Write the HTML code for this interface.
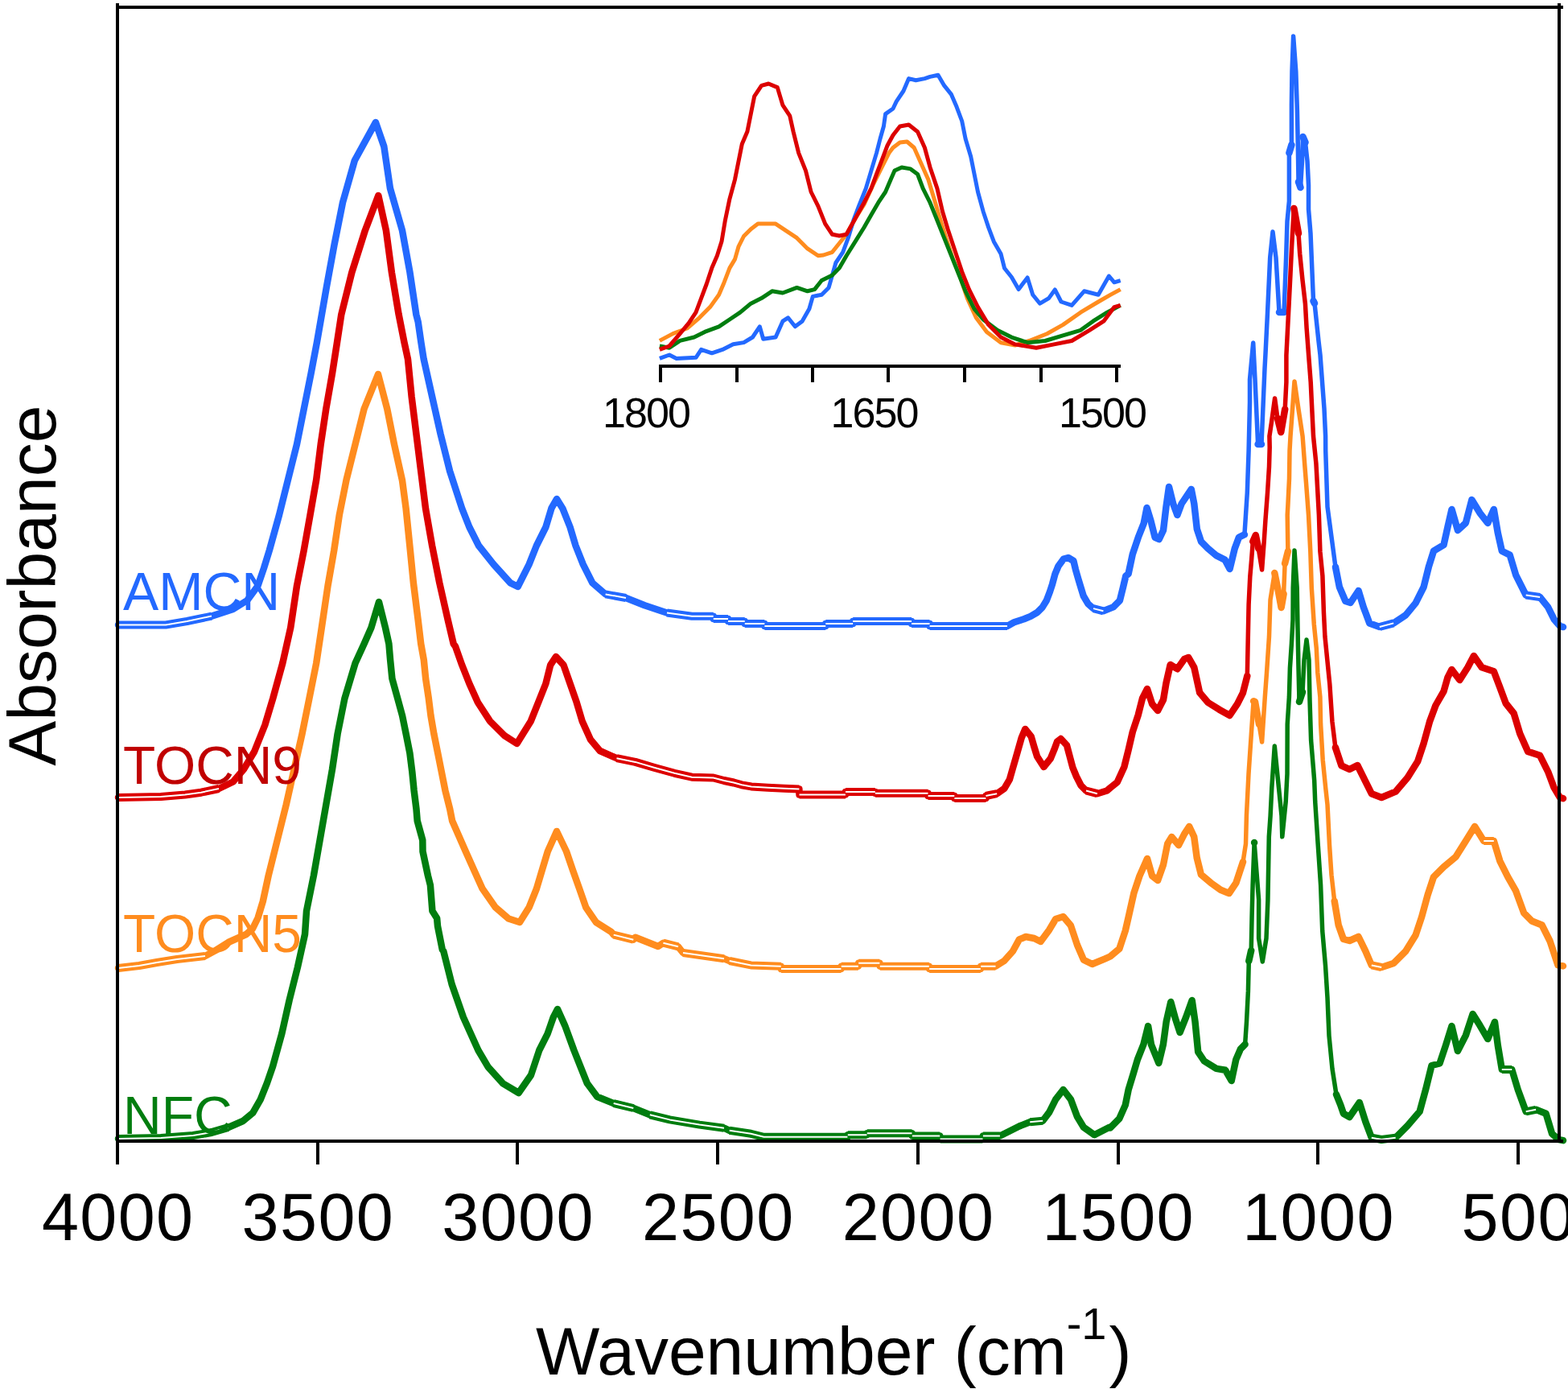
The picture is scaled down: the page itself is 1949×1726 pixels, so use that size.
<!DOCTYPE html>
<html><head><meta charset="utf-8"><style>
html,body{margin:0;padding:0;background:#fff;}
svg{display:block;}
text{font-family:"Liberation Sans",Arial,sans-serif;}
</style></head><body>
<svg width="1949" height="1726" viewBox="0 0 1949 1726" shape-rendering="auto">
<rect width="1949" height="1726" fill="#fff"/>
<g stroke="#2369FF" fill="none" stroke-linejoin="round" stroke-linecap="round"><path d="M147.0 776.5 L206.0 776.5 L232.5 772.0 L263.0 765.6 L289.7 757.0 L307.3 746.0 L320.5 728.0 L328.0 706.0 L334.8 684.0 L347.0 640.0 L358.0 596.0 L369.0 552.0 L377.8 508.0 L386.6 464.0 L393.9 425.5 L406.0 356.0 L415.6 303.8 L426.0 251.7 L440.8 199.5 L466.9 152.0 L477.3 182.0 L485.0 234.3 L500.0 286.4 L509.5 338.6 L517.3 390.7 L519.7 400.0 L523.4 425.5 L526.7 446.3 L537.1 492.7 L547.5 539.0 L559.1 585.4 L574.2 631.7 L583.4 655.0 L595.0 678.0 L613.6 701.3 L634.4 724.4 L643.7 729.0 L657.6 701.3 L666.9 678.0 L678.4 655.0 L685.4 631.7 L692.0 620.0 L699.3 631.7 L708.6 655.0 L715.5 678.0 L724.8 701.3 L736.4 724.4 L752.6 738.4 L778.0 743.0 L801.3 752.3 L829.0 761.5 L860.0 765.8 L886.7 765.8 L886.8 769.1 L905.0 769.1 L905.1 772.0 L925.7 772.0 L925.8 775.1 L950.3 775.1 L950.4 778.0 L1026.2 778.0 L1026.3 775.1 L1060.1 775.1 L1060.2 772.0 L1133.0 772.0 L1133.1 775.1 L1155.5 775.1 L1155.6 778.0 L1252.0 778.0 L1260.5 773.3 L1272.8 769.2 L1281.0 765.9 L1289.3 761.0 L1295.8 754.4 L1300.8 746.2 L1304.9 735.5 L1308.1 725.7 L1311.4 713.4 L1315.5 703.5 L1322.1 694.5 L1327.8 693.0 L1334.4 697.0 L1336.9 707.6 L1340.2 719.1 L1343.4 729.8 L1346.7 740.5 L1352.5 750.3 L1359.0 756.1 L1371.4 759.3 L1383.7 754.4 L1391.9 746.2 L1396.0 729.8 L1399.3 715.8 L1402.6 713.0 L1407.8 688.6 L1414.8 667.8 L1421.7 650.4 L1425.5 631.0 L1430.4 647.0 L1435.6 667.8 L1440.8 670.0 L1446.0 659.0 L1449.5 629.5 L1453.0 605.0 L1458.2 626.0 L1463.4 640.0 L1468.6 626.0 L1475.6 615.6 L1480.8 608.0 L1484.3 626.0 L1487.8 657.3 L1493.0 673.0 L1501.7 681.7 L1512.1 690.4 L1522.5 695.6 L1528.6 707.0 L1534.7 681.7 L1539.9 667.8 L1546.9 664.3 L1548.6 638.2 L1550.3 612.1 L1552.1 560.0 L1553.5 500.0 L1553.5 471.5 L1557.7 426.0 L1560.0 471.5 L1563.6 552.0 L1568.0 552.0 L1572.0 458.0 L1572.9 441.3 L1575.4 390.8 L1578.7 320.0 L1582.0 288.0 L1586.0 320.0 L1590.0 388.0 L1596.0 388.0 L1598.6 320.0 L1600.0 275.0 L1602.4 250.0 L1602.4 190.0 L1605.4 180.0 L1605.4 130.0 L1606.0 88.6 L1607.6 45.0 L1610.8 88.6 L1612.4 137.3 L1613.3 180.0 L1614.0 226.0 L1616.5 233.0 L1618.5 200.0 L1619.5 170.0 L1622.5 177.0 L1625.0 200.0 L1626.5 230.0 L1626.5 260.0 L1629.0 290.0 L1632.5 374.0 L1634.0 377.0 L1639.0 424.0 L1641.0 441.0 L1646.0 508.0 L1647.6 542.0 L1647.7 560.0 L1650.0 629.8 L1655.0 667.2 L1660.0 704.6 L1664.9 729.5 L1672.4 747.0 L1678.6 749.0 L1688.6 734.0 L1694.8 754.4 L1702.3 774.4 L1714.8 779.0 L1732.2 774.4 L1747.2 764.4 L1759.6 749.4 L1769.6 729.5 L1775.8 704.6 L1782.0 684.7 L1794.5 677.2 L1799.5 654.8 L1804.5 633.0 L1812.0 659.0 L1821.9 649.8 L1829.4 621.0 L1839.4 637.3 L1849.3 650.0 L1856.8 633.0 L1861.8 662.2 L1866.8 684.7 L1876.7 689.6 L1884.2 714.6 L1896.7 739.5 L1914.1 742.0 L1924.1 754.4 L1931.6 769.4 L1939.0 778.1 L1943.0 779.1" stroke-width="5.5"/><path d="M147.0 776.5 L206.0 776.5 L232.5 772.0 L263.0 765.6 L289.7 757.0 L307.3 746.0 L320.5 728.0 L328.0 706.0 L334.8 684.0 L347.0 640.0 L358.0 596.0 L369.0 552.0 L377.8 508.0 L386.6 464.0 L393.9 425.5 L406.0 356.0 L415.6 303.8 L426.0 251.7 L440.8 199.5 L466.9 152.0 L477.3 182.0 L485.0 234.3 L500.0 286.4 L509.5 338.6 L517.3 390.7 L519.7 400.0 L523.4 425.5 L526.7 446.3 L537.1 492.7 L547.5 539.0 L559.1 585.4 L574.2 631.7 L583.4 655.0 L595.0 678.0 L613.6 701.3 L634.4 724.4 L643.7 729.0 L657.6 701.3 L666.9 678.0 L678.4 655.0 L685.4 631.7 L692.0 620.0 L699.3 631.7 L708.6 655.0 L715.5 678.0 L724.8 701.3 L736.4 724.4 L752.6 738.4 L778.0 743.0 L801.3 752.3 L829.0 761.5 L860.0 765.8 L886.7 765.8 L886.8 769.1 L905.0 769.1 L905.1 772.0 L925.7 772.0 L925.8 775.1 L950.3 775.1 L950.4 778.0 L1026.2 778.0 L1026.3 775.1 L1060.1 775.1 L1060.2 772.0 L1133.0 772.0 L1133.1 775.1 L1155.5 775.1 L1155.6 778.0 L1252.0 778.0 L1260.5 773.3 L1272.8 769.2 L1281.0 765.9 L1289.3 761.0 L1295.8 754.4 L1300.8 746.2 L1304.9 735.5 L1308.1 725.7 L1311.4 713.4 L1315.5 703.5 L1322.1 694.5 L1327.8 693.0 L1334.4 697.0 L1336.9 707.6 L1340.2 719.1 L1343.4 729.8 L1346.7 740.5 L1352.5 750.3 L1359.0 756.1 L1371.4 759.3 L1383.7 754.4 L1391.9 746.2 L1396.0 729.8 L1399.3 715.8 L1402.6 713.0 L1407.8 688.6 L1414.8 667.8 L1421.7 650.4 L1425.5 631.0 L1430.4 647.0 L1435.6 667.8 L1440.8 670.0 L1446.0 659.0 L1449.5 629.5 L1453.0 605.0 L1458.2 626.0 L1463.4 640.0 L1468.6 626.0 L1475.6 615.6 L1480.8 608.0 L1484.3 626.0 L1487.8 657.3 L1493.0 673.0 L1501.7 681.7 L1512.1 690.4 L1522.5 695.6 L1528.6 707.0 L1534.7 681.7 L1539.9 667.8 L1546.9 664.3 M1563.6 552.0 L1568.0 552.0 M1590.0 388.0 L1596.0 388.0 M1602.4 190.0 L1605.4 180.0 M1614.0 226.0 L1616.5 233.0 M1619.5 170.0 L1622.5 177.0 M1632.5 374.0 L1634.0 377.0 M1660.0 704.6 L1664.9 729.5 L1672.4 747.0 L1678.6 749.0 L1688.6 734.0 L1694.8 754.4 L1702.3 774.4 L1714.8 779.0 L1732.2 774.4 L1747.2 764.4 L1759.6 749.4 L1769.6 729.5 L1775.8 704.6 L1782.0 684.7 L1794.5 677.2 L1799.5 654.8 L1804.5 633.0 L1812.0 659.0 L1821.9 649.8 L1829.4 621.0 L1839.4 637.3 L1849.3 650.0 L1856.8 633.0 L1861.8 662.2 L1866.8 684.7 L1876.7 689.6 L1884.2 714.6 L1896.7 739.5 L1914.1 742.0 L1924.1 754.4 L1931.6 769.4 L1939.0 778.1 L1943.0 779.1" stroke-width="8.5"/><path d="M147.0 776.5 L206.0 776.5 L232.5 772.0 L263.0 765.6 M752.6 738.4 L778.0 743.0 M829.0 761.5 L860.0 765.8 L886.7 765.8 M886.8 769.1 L905.0 769.1 M905.1 772.0 L925.7 772.0 M925.8 775.1 L950.3 775.1 M950.4 778.0 L1026.2 778.0 M1026.3 775.1 L1060.1 775.1 M1060.2 772.0 L1133.0 772.0 M1133.1 775.1 L1155.5 775.1 M1155.6 778.0 L1252.0 778.0 M1359.0 756.1 L1371.4 759.3 M1714.8 779.0 L1732.2 774.4 M1896.7 739.5 L1914.1 742.0" stroke-width="10" stroke-linecap="butt"/><path d="M147.0 776.5 L206.0 776.5 L232.5 772.0 L263.0 765.6 M752.6 738.4 L778.0 743.0 M829.0 761.5 L860.0 765.8 L886.7 765.8 M886.8 769.1 L905.0 769.1 M905.1 772.0 L925.7 772.0 M925.8 775.1 L950.3 775.1 M950.4 778.0 L1026.2 778.0 M1026.3 775.1 L1060.1 775.1 M1060.2 772.0 L1133.0 772.0 M1133.1 775.1 L1155.5 775.1 M1155.6 778.0 L1252.0 778.0 M1359.0 756.1 L1371.4 759.3 M1714.8 779.0 L1732.2 774.4 M1896.7 739.5 L1914.1 742.0" stroke="#fff" stroke-width="2" stroke-linecap="butt"/></g>
<g stroke="#DC0000" fill="none" stroke-linejoin="round" stroke-linecap="round"><path d="M147.0 991.0 L200.0 990.0 L230.0 987.5 L250.0 984.7 L272.0 980.0 L289.7 971.5 L302.9 956.0 L316.1 934.0 L329.3 901.0 L339.2 868.0 L351.3 824.0 L361.2 780.0 L369.0 728.0 L377.7 684.0 L385.5 640.0 L393.2 596.0 L398.7 552.0 L405.3 508.0 L413.0 464.0 L419.0 425.5 L424.3 390.7 L437.3 338.6 L453.8 286.4 L470.3 243.0 L479.9 286.4 L486.9 338.6 L495.6 390.7 L502.5 425.5 L507.0 446.3 L511.6 492.7 L517.4 539.0 L523.2 585.4 L529.0 631.7 L537.1 678.0 L546.3 724.4 L556.8 770.8 L563.7 800.0 L566.0 803.2 L574.2 826.3 L583.4 849.5 L593.9 872.7 L608.9 895.9 L627.5 914.4 L642.5 924.0 L659.9 895.9 L669.2 872.7 L678.4 849.5 L684.2 826.3 L691.0 816.0 L700.5 826.3 L708.6 849.5 L716.7 872.7 L723.6 895.9 L734.0 919.0 L745.7 933.0 L766.5 942.2 L789.7 946.9 L812.9 953.8 L838.4 960.8 L860.0 965.7 L886.7 966.5 L900.0 970.0 L912.0 972.5 L922.0 975.3 L933.9 977.4 L954.4 978.8 L974.9 979.8 L993.4 980.5 L993.5 987.4 L1050.9 987.4 L1051.0 984.1 L1087.8 984.1 L1087.9 985.8 L1153.5 985.8 L1153.6 989.0 L1186.3 989.0 L1186.4 992.0 L1225.3 992.0 L1225.4 989.0 L1230.0 988.0 L1239.2 986.2 L1248.5 979.7 L1254.9 968.6 L1258.6 955.7 L1262.3 942.8 L1266.0 929.9 L1269.7 916.9 L1274.3 906.0 L1281.7 915.1 L1285.4 928.0 L1289.1 940.0 L1297.4 953.0 L1305.7 942.8 L1310.3 931.7 L1314.0 921.6 L1318.6 918.0 L1326.0 926.2 L1329.7 940.0 L1333.4 953.9 L1338.0 965.0 L1343.6 976.0 L1350.0 982.5 L1363.9 986.2 L1375.9 982.5 L1380.0 979.0 L1388.7 972.0 L1397.4 952.9 L1402.6 932.0 L1407.8 909.5 L1414.7 888.6 L1420.0 867.8 L1426.0 856.0 L1432.1 874.7 L1439.1 883.0 L1446.0 869.5 L1449.5 848.7 L1454.7 826.0 L1463.4 831.2 L1472.1 819.0 L1477.3 817.0 L1484.3 829.4 L1491.2 860.8 L1501.6 873.0 L1515.5 881.7 L1528.5 889.0 L1538.1 874.7 L1545.0 860.8 L1550.3 840.0 L1552.1 751.2 L1553.8 716.4 L1555.6 695.6 L1557.3 673.0 L1560.8 665.0 L1564.3 681.7 L1568.6 708.0 L1571.2 673.0 L1572.9 646.9 L1575.5 612.1 L1577.5 580.0 L1578.2 556.0 L1577.9 542.0 L1580.4 525.3 L1584.6 495.0 L1588.0 520.0 L1592.2 537.0 L1597.2 508.5 L1598.9 474.9 L1598.9 441.3 L1600.6 407.6 L1602.3 374.0 L1604.0 340.4 L1605.6 306.8 L1606.5 290.0 L1608.4 259.0 L1614.0 290.0 L1615.7 315.2 L1619.1 348.8 L1622.4 377.4 L1624.1 407.6 L1626.6 441.3 L1629.2 474.9 L1630.8 508.5 L1632.5 542.1 L1635.9 575.7 L1639.4 640.0 L1640.9 685.2 L1643.9 715.4 L1645.4 760.6 L1646.9 790.8 L1649.9 821.0 L1652.9 851.1 L1655.9 896.3 L1659.9 928.9 L1667.4 951.3 L1677.4 956.0 L1687.3 951.0 L1697.3 971.2 L1704.8 986.2 L1717.2 991.0 L1734.7 983.7 L1749.6 966.2 L1762.1 946.3 L1769.6 923.9 L1777.1 896.5 L1784.5 876.5 L1794.5 859.1 L1799.5 841.6 L1804.5 832.0 L1814.4 845.0 L1824.4 829.2 L1831.9 815.0 L1841.8 829.2 L1856.8 834.2 L1864.3 854.1 L1871.7 874.0 L1881.7 886.5 L1889.2 911.4 L1899.2 933.9 L1914.1 938.8 L1924.1 958.8 L1931.6 978.7 L1939.0 991.2 L1943.0 992.2" stroke-width="5.5"/><path d="M147.0 991.0 L200.0 990.0 L230.0 987.5 L250.0 984.7 L272.0 980.0 L289.7 971.5 L302.9 956.0 L316.1 934.0 L329.3 901.0 L339.2 868.0 L351.3 824.0 L361.2 780.0 L369.0 728.0 L377.7 684.0 L385.5 640.0 L393.2 596.0 L398.7 552.0 L405.3 508.0 L413.0 464.0 L419.0 425.5 L424.3 390.7 L437.3 338.6 L453.8 286.4 L470.3 243.0 L479.9 286.4 L486.9 338.6 L495.6 390.7 L502.5 425.5 L507.0 446.3 L511.6 492.7 L517.4 539.0 L523.2 585.4 L529.0 631.7 L537.1 678.0 L546.3 724.4 L556.8 770.8 L563.7 800.0 L566.0 803.2 L574.2 826.3 L583.4 849.5 L593.9 872.7 L608.9 895.9 L627.5 914.4 L642.5 924.0 L659.9 895.9 L669.2 872.7 L678.4 849.5 L684.2 826.3 L691.0 816.0 L700.5 826.3 L708.6 849.5 L716.7 872.7 L723.6 895.9 L734.0 919.0 L745.7 933.0 L766.5 942.2 L789.7 946.9 L812.9 953.8 L838.4 960.8 L860.0 965.7 L886.7 966.5 L900.0 970.0 L912.0 972.5 L922.0 975.3 L933.9 977.4 L954.4 978.8 L974.9 979.8 L993.4 980.5 L993.5 987.4 L1050.9 987.4 L1051.0 984.1 L1087.8 984.1 L1087.9 985.8 L1153.5 985.8 L1153.6 989.0 L1186.3 989.0 L1186.4 992.0 L1225.3 992.0 L1225.4 989.0 L1230.0 988.0 L1239.2 986.2 L1248.5 979.7 L1254.9 968.6 L1258.6 955.7 L1262.3 942.8 L1266.0 929.9 L1269.7 916.9 L1274.3 906.0 L1281.7 915.1 L1285.4 928.0 L1289.1 940.0 L1297.4 953.0 L1305.7 942.8 L1310.3 931.7 L1314.0 921.6 L1318.6 918.0 L1326.0 926.2 L1329.7 940.0 L1333.4 953.9 L1338.0 965.0 L1343.6 976.0 L1350.0 982.5 L1363.9 986.2 L1375.9 982.5 L1380.0 979.0 L1388.7 972.0 L1397.4 952.9 L1402.6 932.0 L1407.8 909.5 L1414.7 888.6 L1420.0 867.8 L1426.0 856.0 L1432.1 874.7 L1439.1 883.0 L1446.0 869.5 L1449.5 848.7 L1454.7 826.0 L1463.4 831.2 L1472.1 819.0 L1477.3 817.0 L1484.3 829.4 L1491.2 860.8 L1501.6 873.0 L1515.5 881.7 L1528.5 889.0 L1538.1 874.7 L1545.0 860.8 L1550.3 840.0 M1557.3 673.0 L1560.8 665.0 L1564.3 681.7 M1588.0 520.0 L1592.2 537.0 L1597.2 508.5 M1608.4 259.0 L1614.0 290.0 M1659.9 928.9 L1667.4 951.3 L1677.4 956.0 L1687.3 951.0 L1697.3 971.2 L1704.8 986.2 L1717.2 991.0 L1734.7 983.7 L1749.6 966.2 L1762.1 946.3 L1769.6 923.9 L1777.1 896.5 L1784.5 876.5 L1794.5 859.1 L1799.5 841.6 L1804.5 832.0 L1814.4 845.0 L1824.4 829.2 L1831.9 815.0 L1841.8 829.2 L1856.8 834.2 L1864.3 854.1 L1871.7 874.0 L1881.7 886.5 L1889.2 911.4 L1899.2 933.9 L1914.1 938.8 L1924.1 958.8 L1931.6 978.7 L1939.0 991.2 L1943.0 992.2" stroke-width="8.5"/><path d="M147.0 991.0 L200.0 990.0 L230.0 987.5 L250.0 984.7 L272.0 980.0 M766.5 942.2 L789.7 946.9 L812.9 953.8 L838.4 960.8 L860.0 965.7 L886.7 966.5 L900.0 970.0 L912.0 972.5 L922.0 975.3 L933.9 977.4 L954.4 978.8 L974.9 979.8 L993.4 980.5 M993.5 987.4 L1050.9 987.4 M1051.0 984.1 L1087.8 984.1 M1087.9 985.8 L1153.5 985.8 M1153.6 989.0 L1186.3 989.0 M1186.4 992.0 L1225.3 992.0 M1225.4 989.0 L1230.0 988.0 L1239.2 986.2 M1350.0 982.5 L1363.9 986.2" stroke-width="10" stroke-linecap="butt"/><path d="M147.0 991.0 L200.0 990.0 L230.0 987.5 L250.0 984.7 L272.0 980.0 M766.5 942.2 L789.7 946.9 L812.9 953.8 L838.4 960.8 L860.0 965.7 L886.7 966.5 L900.0 970.0 L912.0 972.5 L922.0 975.3 L933.9 977.4 L954.4 978.8 L974.9 979.8 L993.4 980.5 M993.5 987.4 L1050.9 987.4 M1051.0 984.1 L1087.8 984.1 M1087.9 985.8 L1153.5 985.8 M1153.6 989.0 L1186.3 989.0 M1186.4 992.0 L1225.3 992.0 M1225.4 989.0 L1230.0 988.0 L1239.2 986.2 M1350.0 982.5 L1363.9 986.2" stroke="#fff" stroke-width="2" stroke-linecap="butt"/></g>
<g stroke="#FF8C1E" fill="none" stroke-linejoin="round" stroke-linecap="round"><path d="M147.0 1203.0 L173.0 1200.0 L195.0 1196.0 L220.0 1192.0 L255.0 1188.0 L267.0 1181.6 L283.7 1171.0 L306.0 1161.0 L314.0 1154.0 L320.6 1140.5 L326.8 1120.0 L333.7 1088.0 L344.7 1044.0 L355.7 1000.0 L365.6 956.0 L375.5 912.0 L384.4 868.0 L393.2 824.0 L399.8 780.0 L407.5 728.0 L415.2 684.0 L421.8 640.0 L430.6 596.0 L441.6 552.0 L452.6 508.0 L470.0 465.0 L481.2 508.0 L490.0 552.0 L500.0 597.0 L504.6 631.7 L509.3 678.0 L513.9 724.4 L519.7 770.8 L523.2 800.0 L526.8 820.0 L529.1 843.2 L532.6 866.3 L535.5 889.5 L539.5 912.7 L544.2 935.9 L548.8 959.0 L553.4 982.2 L559.2 1005.4 L562.1 1020.0 L578.8 1058.0 L589.2 1081.3 L599.7 1104.4 L615.9 1127.6 L632.1 1141.5 L646.0 1146.0 L657.6 1127.6 L666.9 1104.4 L673.8 1081.3 L680.8 1058.0 L692.0 1033.0 L704.0 1058.0 L712.0 1081.3 L720.2 1104.4 L728.3 1127.6 L741.0 1146.2 L759.6 1157.8 L762.7 1161.6 L787.3 1167.7 L789.7 1164.7 L818.0 1176.0 L824.4 1171.7 L843.0 1176.3 L849.0 1184.0 L900.0 1191.3 L906.7 1194.0 L933.4 1199.4 L970.7 1200.7 L971.0 1204.0 L1045.4 1204.0 L1045.8 1200.7 L1066.8 1200.7 L1067.2 1196.7 L1093.4 1196.7 L1093.8 1200.7 L1154.8 1200.7 L1155.2 1204.0 L1218.8 1204.0 L1219.2 1200.7 L1237.5 1200.7 L1248.2 1194.0 L1258.9 1182.0 L1266.9 1167.4 L1275.0 1164.0 L1285.5 1166.0 L1293.5 1170.0 L1304.2 1155.4 L1312.2 1142.0 L1321.6 1139.0 L1330.9 1150.0 L1338.9 1174.0 L1346.9 1192.7 L1357.6 1198.0 L1373.6 1191.4 L1380.0 1188.5 L1391.3 1179.1 L1398.8 1156.5 L1402.6 1140.0 L1409.5 1109.3 L1416.5 1088.4 L1426.0 1067.0 L1432.1 1088.4 L1439.1 1094.0 L1446.0 1074.5 L1451.2 1048.5 L1456.4 1040.0 L1465.1 1050.2 L1472.1 1036.3 L1478.2 1027.0 L1484.2 1039.8 L1487.7 1065.9 L1492.9 1086.7 L1505.1 1097.1 L1517.2 1105.8 L1527.7 1110.0 L1536.4 1097.1 L1545.0 1071.0 L1548.5 1048.5 L1549.4 1013.7 L1552.0 961.6 L1555.5 909.5 L1558.1 871.3 L1560.0 872.0 L1565.0 900.0 L1568.6 922.0 L1572.3 866.1 L1574.5 836.0 L1577.5 790.8 L1579.0 745.5 L1584.3 712.0 L1588.0 730.0 L1592.6 755.0 L1595.6 738.0 L1597.1 700.3 L1600.9 685.2 L1600.2 640.0 L1600.8 629.5 L1602.5 594.8 L1603.0 560.0 L1604.0 542.1 L1606.5 508.5 L1609.0 474.0 L1614.0 508.5 L1619.1 542.1 L1621.6 575.7 L1623.5 600.0 L1626.5 640.0 L1628.8 685.2 L1630.3 730.5 L1633.3 775.7 L1636.3 805.8 L1637.8 836.0 L1640.9 866.1 L1641.6 900.0 L1644.2 944.2 L1647.7 979.0 L1650.0 1000.0 L1652.5 1049.8 L1655.0 1087.2 L1658.7 1119.6 L1663.7 1149.5 L1669.9 1167.0 L1677.4 1169.0 L1688.6 1164.0 L1697.3 1181.9 L1704.8 1199.4 L1717.2 1202.0 L1732.2 1196.9 L1747.2 1181.9 L1759.6 1162.0 L1767.1 1139.5 L1774.6 1112.1 L1782.0 1089.7 L1794.5 1077.2 L1809.5 1064.8 L1821.9 1044.9 L1833.1 1027.0 L1844.3 1044.9 L1856.8 1044.9 L1864.3 1069.8 L1874.2 1089.7 L1884.2 1107.2 L1894.2 1134.6 L1904.1 1144.5 L1916.6 1149.5 L1926.6 1169.5 L1936.5 1199.4 L1943.0 1200.4" stroke-width="5.5"/><path d="M147.0 1203.0 L173.0 1200.0 L195.0 1196.0 L220.0 1192.0 L255.0 1188.0 L267.0 1181.6 L283.7 1171.0 L306.0 1161.0 L314.0 1154.0 L320.6 1140.5 L326.8 1120.0 L333.7 1088.0 L344.7 1044.0 L355.7 1000.0 L365.6 956.0 L375.5 912.0 L384.4 868.0 L393.2 824.0 L399.8 780.0 L407.5 728.0 L415.2 684.0 L421.8 640.0 L430.6 596.0 L441.6 552.0 L452.6 508.0 L470.0 465.0 L481.2 508.0 L490.0 552.0 L500.0 597.0 L504.6 631.7 L509.3 678.0 L513.9 724.4 L519.7 770.8 L523.2 800.0 L526.8 820.0 L529.1 843.2 L532.6 866.3 L535.5 889.5 L539.5 912.7 L544.2 935.9 L548.8 959.0 L553.4 982.2 L559.2 1005.4 L562.1 1020.0 L578.8 1058.0 L589.2 1081.3 L599.7 1104.4 L615.9 1127.6 L632.1 1141.5 L646.0 1146.0 L657.6 1127.6 L666.9 1104.4 L673.8 1081.3 L680.8 1058.0 L692.0 1033.0 L704.0 1058.0 L712.0 1081.3 L720.2 1104.4 L728.3 1127.6 L741.0 1146.2 L759.6 1157.8 L762.7 1161.6 L787.3 1167.7 L789.7 1164.7 L818.0 1176.0 L824.4 1171.7 L843.0 1176.3 L849.0 1184.0 L900.0 1191.3 L906.7 1194.0 L933.4 1199.4 L970.7 1200.7 L971.0 1204.0 L1045.4 1204.0 L1045.8 1200.7 L1066.8 1200.7 L1067.2 1196.7 L1093.4 1196.7 L1093.8 1200.7 L1154.8 1200.7 L1155.2 1204.0 L1218.8 1204.0 L1219.2 1200.7 L1237.5 1200.7 L1248.2 1194.0 L1258.9 1182.0 L1266.9 1167.4 L1275.0 1164.0 L1285.5 1166.0 L1293.5 1170.0 L1304.2 1155.4 L1312.2 1142.0 L1321.6 1139.0 L1330.9 1150.0 L1338.9 1174.0 L1346.9 1192.7 L1357.6 1198.0 L1373.6 1191.4 L1380.0 1188.5 L1391.3 1179.1 L1398.8 1156.5 L1402.6 1140.0 L1409.5 1109.3 L1416.5 1088.4 L1426.0 1067.0 L1432.1 1088.4 L1439.1 1094.0 L1446.0 1074.5 L1451.2 1048.5 L1456.4 1040.0 L1465.1 1050.2 L1472.1 1036.3 L1478.2 1027.0 L1484.2 1039.8 L1487.7 1065.9 L1492.9 1086.7 L1505.1 1097.1 L1517.2 1105.8 L1527.7 1110.0 L1536.4 1097.1 L1545.0 1071.0 M1558.1 871.3 L1560.0 872.0 L1565.0 900.0 M1584.3 712.0 L1588.0 730.0 L1592.6 755.0 L1595.6 738.0 M1597.1 700.3 L1600.9 685.2 M1658.7 1119.6 L1663.7 1149.5 L1669.9 1167.0 L1677.4 1169.0 L1688.6 1164.0 L1697.3 1181.9 L1704.8 1199.4 L1717.2 1202.0 L1732.2 1196.9 L1747.2 1181.9 L1759.6 1162.0 L1767.1 1139.5 L1774.6 1112.1 L1782.0 1089.7 L1794.5 1077.2 L1809.5 1064.8 L1821.9 1044.9 L1833.1 1027.0 L1844.3 1044.9 L1856.8 1044.9 L1864.3 1069.8 L1874.2 1089.7 L1884.2 1107.2 L1894.2 1134.6 L1904.1 1144.5 L1916.6 1149.5 L1926.6 1169.5 L1936.5 1199.4 L1943.0 1200.4" stroke-width="8.5"/><path d="M147.0 1203.0 L173.0 1200.0 L195.0 1196.0 L220.0 1192.0 L255.0 1188.0 M762.7 1161.6 L787.3 1167.7 M824.4 1171.7 L843.0 1176.3 M849.0 1184.0 L900.0 1191.3 M906.7 1194.0 L933.4 1199.4 L970.7 1200.7 M971.0 1204.0 L1045.4 1204.0 M1045.8 1200.7 L1066.8 1200.7 M1067.2 1196.7 L1093.4 1196.7 M1093.8 1200.7 L1154.8 1200.7 M1155.2 1204.0 L1218.8 1204.0 M1219.2 1200.7 L1237.5 1200.7 M1704.8 1199.4 L1717.2 1202.0 M1844.3 1044.9 L1856.8 1044.9" stroke-width="10" stroke-linecap="butt"/><path d="M147.0 1203.0 L173.0 1200.0 L195.0 1196.0 L220.0 1192.0 L255.0 1188.0 M762.7 1161.6 L787.3 1167.7 M824.4 1171.7 L843.0 1176.3 M849.0 1184.0 L900.0 1191.3 M906.7 1194.0 L933.4 1199.4 L970.7 1200.7 M971.0 1204.0 L1045.4 1204.0 M1045.8 1200.7 L1066.8 1200.7 M1067.2 1196.7 L1093.4 1196.7 M1093.8 1200.7 L1154.8 1200.7 M1155.2 1204.0 L1218.8 1204.0 M1219.2 1200.7 L1237.5 1200.7 M1704.8 1199.4 L1717.2 1202.0 M1844.3 1044.9 L1856.8 1044.9" stroke="#fff" stroke-width="2" stroke-linecap="butt"/></g>
<g stroke="#007D0F" fill="none" stroke-linejoin="round" stroke-linecap="round"><path d="M147.0 1415.0 L200.0 1414.0 L240.0 1411.0 L263.0 1407.0 L283.7 1401.0 L302.0 1393.0 L314.4 1382.7 L323.7 1366.3 L331.9 1345.8 L339.1 1325.0 L350.4 1284.0 L359.6 1243.0 L369.9 1202.0 L379.0 1161.0 L381.0 1132.0 L389.9 1088.0 L397.6 1044.0 L405.3 1000.0 L413.0 956.0 L419.6 912.0 L428.4 868.0 L441.6 824.0 L452.6 800.0 L461.4 780.0 L471.0 748.0 L479.0 780.0 L483.4 800.0 L485.1 820.0 L487.4 843.2 L493.8 866.3 L500.1 889.5 L504.8 912.7 L509.4 935.9 L512.3 959.0 L514.6 982.2 L517.5 1005.4 L518.7 1020.0 L525.3 1044.0 L525.5 1058.0 L531.9 1088.0 L534.9 1100.0 L537.4 1132.0 L543.1 1141.0 L544.0 1150.8 L549.8 1180.0 L551.3 1182.0 L561.6 1223.0 L575.9 1264.0 L594.4 1305.0 L606.7 1325.8 L625.2 1346.3 L644.7 1358.0 L660.0 1336.0 L670.3 1305.0 L680.6 1284.7 L687.8 1264.0 L693.0 1254.0 L702.2 1274.4 L713.4 1305.0 L721.7 1325.8 L729.9 1346.3 L742.2 1362.7 L762.7 1371.0 L787.3 1377.0 L807.8 1385.3 L832.5 1391.4 L869.4 1397.6 L900.0 1401.7 L906.7 1404.8 L933.4 1408.8 L949.4 1412.8 L1053.4 1412.8 L1053.8 1410.2 L1077.4 1410.2 L1077.8 1408.3 L1133.5 1408.3 L1133.9 1411.5 L1168.2 1411.5 L1168.6 1415.5 L1221.5 1415.5 L1221.9 1411.5 L1242.9 1411.5 L1253.5 1406.2 L1266.9 1399.5 L1280.2 1394.2 L1296.2 1392.8 L1304.2 1382.1 L1312.2 1366.1 L1321.6 1354.0 L1330.9 1366.1 L1338.9 1387.5 L1346.9 1400.8 L1360.3 1410.2 L1378.9 1400.8 L1380.0 1401.4 L1391.3 1390.0 L1398.8 1373.1 L1402.6 1354.3 L1408.3 1335.5 L1413.9 1316.6 L1421.4 1297.8 L1427.1 1275.0 L1430.9 1297.8 L1440.3 1321.0 L1445.9 1297.8 L1449.7 1269.5 L1455.3 1245.0 L1461.0 1265.8 L1466.6 1283.0 L1474.2 1263.9 L1481.7 1243.0 L1485.5 1269.5 L1489.2 1307.2 L1496.8 1318.5 L1511.9 1327.9 L1523.2 1329.8 L1530.7 1343.0 L1536.3 1316.6 L1542.0 1303.4 L1547.6 1297.8 L1549.5 1269.5 L1551.4 1231.9 L1552.3 1194.2 L1555.2 1181.0 L1556.1 1137.7 L1557.1 1100.0 L1559.1 1047.0 L1559.1 1047.0 L1564.6 1118.0 L1564.6 1166.0 L1569.3 1195.0 L1574.0 1166.0 L1575.9 1118.8 L1577.3 1039.8 L1579.1 1013.7 L1580.8 979.0 L1584.3 927.0 L1589.5 979.0 L1593.0 1013.7 L1593.8 1039.8 L1598.2 996.4 L1600.0 961.6 L1600.2 900.0 L1602.4 866.0 L1603.4 830.0 L1605.4 800.0 L1607.0 770.0 L1607.2 730.5 L1609.0 684.0 L1612.2 730.5 L1613.0 780.0 L1614.0 830.0 L1615.0 872.0 L1619.0 860.0 L1621.0 820.0 L1624.0 795.0 L1627.0 820.0 L1628.0 870.0 L1629.6 920.0 L1632.5 955.0 L1633.7 970.0 L1634.7 996.0 L1638.1 1048.0 L1641.6 1100.0 L1643.7 1156.5 L1647.5 1200.0 L1650.0 1240.0 L1652.0 1287.0 L1656.0 1328.0 L1661.0 1360.0 L1666.3 1373.1 L1669.9 1383.7 L1677.4 1388.0 L1689.8 1370.0 L1697.3 1393.7 L1704.8 1413.7 L1717.2 1416.0 L1734.7 1413.7 L1749.6 1398.7 L1764.6 1381.3 L1772.1 1353.9 L1779.5 1324.0 L1789.5 1321.5 L1797.0 1299.0 L1804.5 1275.0 L1811.9 1306.0 L1821.9 1286.6 L1830.6 1260.0 L1839.4 1274.1 L1849.3 1291.0 L1858.0 1270.0 L1861.8 1299.0 L1866.8 1328.9 L1879.2 1328.9 L1886.7 1353.9 L1896.7 1381.3 L1909.1 1378.8 L1921.6 1383.7 L1929.1 1408.7 L1937.8 1416.2 L1943.0 1417.2" stroke-width="5.5"/><path d="M147.0 1415.0 L200.0 1414.0 L240.0 1411.0 L263.0 1407.0 L283.7 1401.0 L302.0 1393.0 L314.4 1382.7 L323.7 1366.3 L331.9 1345.8 L339.1 1325.0 L350.4 1284.0 L359.6 1243.0 L369.9 1202.0 L379.0 1161.0 L381.0 1132.0 L389.9 1088.0 L397.6 1044.0 L405.3 1000.0 L413.0 956.0 L419.6 912.0 L428.4 868.0 L441.6 824.0 L452.6 800.0 L461.4 780.0 L471.0 748.0 L479.0 780.0 L483.4 800.0 L485.1 820.0 L487.4 843.2 L493.8 866.3 L500.1 889.5 L504.8 912.7 L509.4 935.9 L512.3 959.0 L514.6 982.2 L517.5 1005.4 L518.7 1020.0 L525.3 1044.0 L525.5 1058.0 L531.9 1088.0 L534.9 1100.0 L537.4 1132.0 L543.1 1141.0 L544.0 1150.8 L549.8 1180.0 L551.3 1182.0 L561.6 1223.0 L575.9 1264.0 L594.4 1305.0 L606.7 1325.8 L625.2 1346.3 L644.7 1358.0 L660.0 1336.0 L670.3 1305.0 L680.6 1284.7 L687.8 1264.0 L693.0 1254.0 L702.2 1274.4 L713.4 1305.0 L721.7 1325.8 L729.9 1346.3 L742.2 1362.7 L762.7 1371.0 L787.3 1377.0 L807.8 1385.3 L832.5 1391.4 L869.4 1397.6 L900.0 1401.7 L906.7 1404.8 L933.4 1408.8 L949.4 1412.8 L1053.4 1412.8 L1053.8 1410.2 L1077.4 1410.2 L1077.8 1408.3 L1133.5 1408.3 L1133.9 1411.5 L1168.2 1411.5 L1168.6 1415.5 L1221.5 1415.5 L1221.9 1411.5 L1242.9 1411.5 L1253.5 1406.2 L1266.9 1399.5 L1280.2 1394.2 L1296.2 1392.8 L1304.2 1382.1 L1312.2 1366.1 L1321.6 1354.0 L1330.9 1366.1 L1338.9 1387.5 L1346.9 1400.8 L1360.3 1410.2 L1378.9 1400.8 L1380.0 1401.4 L1391.3 1390.0 L1398.8 1373.1 L1402.6 1354.3 L1408.3 1335.5 L1413.9 1316.6 L1421.4 1297.8 L1427.1 1275.0 L1430.9 1297.8 L1440.3 1321.0 L1445.9 1297.8 L1449.7 1269.5 L1455.3 1245.0 L1461.0 1265.8 L1466.6 1283.0 L1474.2 1263.9 L1481.7 1243.0 L1485.5 1269.5 L1489.2 1307.2 L1496.8 1318.5 L1511.9 1327.9 L1523.2 1329.8 L1530.7 1343.0 L1536.3 1316.6 L1542.0 1303.4 L1547.6 1297.8 M1552.3 1194.2 L1555.2 1181.0 M1559.1 1047.0 L1559.1 1047.0 M1615.0 872.0 L1619.0 860.0 M1661.0 1360.0 L1666.3 1373.1 L1669.9 1383.7 L1677.4 1388.0 L1689.8 1370.0 L1697.3 1393.7 L1704.8 1413.7 L1717.2 1416.0 L1734.7 1413.7 L1749.6 1398.7 L1764.6 1381.3 L1772.1 1353.9 L1779.5 1324.0 L1789.5 1321.5 L1797.0 1299.0 L1804.5 1275.0 L1811.9 1306.0 L1821.9 1286.6 L1830.6 1260.0 L1839.4 1274.1 L1849.3 1291.0 L1858.0 1270.0 L1861.8 1299.0 L1866.8 1328.9 L1879.2 1328.9 L1886.7 1353.9 L1896.7 1381.3 L1909.1 1378.8 L1921.6 1383.7 L1929.1 1408.7 L1937.8 1416.2 L1943.0 1417.2" stroke-width="8.5"/><path d="M147.0 1415.0 L200.0 1414.0 L240.0 1411.0 L263.0 1407.0 L283.7 1401.0 M762.7 1371.0 L787.3 1377.0 M807.8 1385.3 L832.5 1391.4 L869.4 1397.6 L900.0 1401.7 M906.7 1404.8 L933.4 1408.8 L949.4 1412.8 L1053.4 1412.8 M1053.8 1410.2 L1077.4 1410.2 M1077.8 1408.3 L1133.5 1408.3 M1133.9 1411.5 L1168.2 1411.5 M1168.6 1415.5 L1221.5 1415.5 M1221.9 1411.5 L1242.9 1411.5 M1280.2 1394.2 L1296.2 1392.8 M1704.8 1413.7 L1717.2 1416.0 L1734.7 1413.7 M1866.8 1328.9 L1879.2 1328.9 M1896.7 1381.3 L1909.1 1378.8" stroke-width="10" stroke-linecap="butt"/><path d="M147.0 1415.0 L200.0 1414.0 L240.0 1411.0 L263.0 1407.0 L283.7 1401.0 M762.7 1371.0 L787.3 1377.0 M807.8 1385.3 L832.5 1391.4 L869.4 1397.6 L900.0 1401.7 M906.7 1404.8 L933.4 1408.8 L949.4 1412.8 L1053.4 1412.8 M1053.8 1410.2 L1077.4 1410.2 M1077.8 1408.3 L1133.5 1408.3 M1133.9 1411.5 L1168.2 1411.5 M1168.6 1415.5 L1221.5 1415.5 M1221.9 1411.5 L1242.9 1411.5 M1280.2 1394.2 L1296.2 1392.8 M1704.8 1413.7 L1717.2 1416.0 L1734.7 1413.7 M1866.8 1328.9 L1879.2 1328.9 M1896.7 1381.3 L1909.1 1378.8" stroke="#fff" stroke-width="2" stroke-linecap="butt"/></g>
<path d="M819.9 423.4 L836.4 414.6 L854.0 408.0 L869.4 394.8 L882.6 381.6 L893.6 366.2 L900.2 350.7 L906.9 333.1 L913.5 322.1 L917.9 306.7 L924.5 293.5 L933.3 284.7 L942.1 278.1 L953.1 278.0 L964.1 278.1 L977.3 286.9 L990.5 295.7 L1003.7 308.9 L1016.9 317.7 L1023.5 317.0 L1034.5 313.3 L1043.3 302.3 L1052.1 291.3 L1063.1 271.5 L1074.1 253.9 L1085.2 229.7 L1096.2 207.7 L1105.0 190.1 L1110.0 183.5 L1118.6 176.9 L1127.4 176.0 L1136.2 183.5 L1145.0 203.3 L1153.8 223.1 L1160.5 245.1 L1167.1 267.1 L1175.9 295.8 L1184.7 322.2 L1193.5 344.2 L1202.3 370.6 L1213.3 394.8 L1226.5 412.5 L1244.1 425.7 L1261.7 429.0 L1279.3 423.5 L1301.4 414.7 L1321.2 403.6 L1343.2 388.2 L1365.2 375.0 L1380.6 366.2 L1392.7 359.6" fill="none" stroke="#FF8C1E" stroke-width="5" stroke-linejoin="round"/>
<path d="M819.9 445.4 L832.0 441.0 L840.8 445.4 L865.0 444.3 L871.6 434.4 L884.8 438.8 L898.0 434.4 L911.3 427.8 L924.5 425.6 L935.5 419.0 L944.3 405.8 L948.7 421.2 L964.1 419.0 L972.9 399.2 L979.5 394.8 L988.3 405.8 L997.1 399.2 L1005.9 383.8 L1010.3 368.4 L1021.3 366.2 L1030.1 357.4 L1038.9 326.5 L1047.7 313.3 L1054.3 295.7 L1060.9 273.7 L1067.5 256.1 L1076.3 234.1 L1082.9 212.1 L1089.5 190.1 L1094.0 172.5 L1098.4 157.0 L1100.6 141.6 L1110.0 135.0 L1114.2 126.2 L1123.0 113.0 L1129.6 97.6 L1138.4 99.8 L1149.4 97.6 L1156.0 95.4 L1166.0 93.2 L1173.7 106.4 L1182.5 117.4 L1189.1 132.8 L1195.7 150.5 L1200.1 172.5 L1206.7 194.5 L1211.1 216.5 L1215.5 238.5 L1222.1 262.7 L1228.7 282.6 L1235.3 300.2 L1244.1 315.6 L1248.5 333.2 L1257.3 344.2 L1266.1 359.6 L1277.1 345.0 L1283.7 366.2 L1292.6 377.2 L1303.6 370.6 L1311.3 360.0 L1319.0 375.0 L1332.2 379.4 L1347.6 361.8 L1365.2 366.2 L1378.4 343.0 L1385.0 350.8 L1392.7 348.6" fill="none" stroke="#2369FF" stroke-width="5" stroke-linejoin="round"/>
<path d="M819.9 430.0 L832.0 432.2 L845.2 423.4 L862.8 419.0 L876.0 412.4 L893.6 405.8 L906.9 397.0 L920.1 388.2 L933.3 377.2 L946.5 370.6 L959.7 361.8 L972.9 364.0 L990.5 357.4 L1003.7 361.8 L1012.5 359.6 L1021.3 348.5 L1034.5 341.9 L1043.3 333.1 L1052.1 317.7 L1063.1 300.1 L1074.1 282.5 L1082.9 267.1 L1091.8 251.7 L1100.6 238.5 L1107.2 223.1 L1112.0 212.1 L1120.8 208.0 L1131.8 209.9 L1140.6 216.5 L1147.2 234.1 L1156.0 251.7 L1164.9 273.7 L1173.7 295.8 L1182.5 317.8 L1191.3 339.8 L1200.1 361.8 L1211.1 383.8 L1222.1 397.0 L1239.7 410.3 L1257.3 419.1 L1277.1 425.7 L1299.2 423.5 L1321.2 416.9 L1343.2 410.3 L1358.6 399.2 L1376.2 388.2 L1392.7 379.4" fill="none" stroke="#007D0F" stroke-width="5" stroke-linejoin="round"/>
<path d="M819.9 434.4 L832.0 430.0 L845.2 414.6 L856.2 401.4 L865.0 388.2 L871.6 370.6 L878.2 353.0 L884.8 333.1 L891.4 317.7 L897.0 300.1 L901.4 273.7 L906.9 247.3 L913.5 223.1 L917.9 201.1 L922.3 179.1 L928.9 163.6 L933.3 141.6 L937.7 119.6 L946.5 106.4 L955.3 104.0 L966.3 108.6 L972.9 130.6 L981.7 143.8 L986.1 163.6 L992.7 190.1 L1001.5 212.1 L1008.1 238.5 L1016.9 256.1 L1025.7 278.1 L1034.5 291.3 L1043.3 293.0 L1052.1 291.3 L1063.1 271.5 L1074.1 251.7 L1082.9 234.1 L1089.5 216.5 L1096.2 198.9 L1102.8 181.3 L1110.0 168.0 L1118.6 157.0 L1129.6 155.0 L1140.6 163.7 L1149.4 183.5 L1156.0 207.7 L1164.9 234.1 L1171.5 262.7 L1178.1 284.8 L1186.9 311.2 L1195.7 337.6 L1204.5 359.6 L1215.5 381.6 L1228.7 403.6 L1244.1 419.1 L1261.7 427.9 L1288.1 432.3 L1310.2 427.9 L1332.2 423.5 L1354.2 410.3 L1371.8 399.2 L1385.0 381.6 L1392.7 379.4" fill="none" stroke="#DC0000" stroke-width="5" stroke-linejoin="round"/>
<rect x="144" y="4" width="4" height="1443" fill="#000"/>
<rect x="144" y="7" width="1799" height="4" fill="#000"/>
<rect x="1936" y="4" width="4" height="1416" fill="#000"/>
<rect x="144" y="1416" width="1799" height="4" fill="#000"/>
<rect x="393" y="1416" width="4" height="31" fill="#000"/>
<rect x="641" y="1416" width="4" height="31" fill="#000"/>
<rect x="890" y="1416" width="4" height="31" fill="#000"/>
<rect x="1139" y="1416" width="4" height="31" fill="#000"/>
<rect x="1388" y="1416" width="4" height="31" fill="#000"/>
<rect x="1636" y="1416" width="4" height="31" fill="#000"/>
<rect x="1885" y="1416" width="4" height="31" fill="#000"/>
<rect x="819" y="453" width="574" height="4" fill="#000"/>
<rect x="819" y="453" width="4" height="22" fill="#000"/>
<rect x="914" y="453" width="4" height="22" fill="#000"/>
<rect x="1008" y="453" width="4" height="22" fill="#000"/>
<rect x="1102" y="453" width="4" height="22" fill="#000"/>
<rect x="1197" y="453" width="4" height="22" fill="#000"/>
<rect x="1292" y="453" width="4" height="22" fill="#000"/>
<rect x="1386" y="453" width="4" height="22" fill="#000"/>
<text x="146.7" y="1541.2" text-anchor="middle" font-size="82.7" letter-spacing="1.4">4000</text>
<text x="395.4" y="1541.2" text-anchor="middle" font-size="82.7" letter-spacing="1.4">3500</text>
<text x="644.1" y="1541.2" text-anchor="middle" font-size="82.7" letter-spacing="1.4">3000</text>
<text x="892.8" y="1541.2" text-anchor="middle" font-size="82.7" letter-spacing="1.4">2500</text>
<text x="1141.5" y="1541.2" text-anchor="middle" font-size="82.7" letter-spacing="1.4">2000</text>
<text x="1390.2" y="1541.2" text-anchor="middle" font-size="82.7" letter-spacing="1.4">1500</text>
<text x="1639.0" y="1541.2" text-anchor="middle" font-size="82.7" letter-spacing="1.4">1000</text>
<text x="1887.7" y="1541.2" text-anchor="middle" font-size="82.7" letter-spacing="1.4">500</text>
<text x="803.0" y="530.8" text-anchor="middle" font-size="52" letter-spacing="-1.9">1800</text>
<text x="1086.5" y="530.8" text-anchor="middle" font-size="52" letter-spacing="-1.9">1650</text>
<text x="1370.0" y="530.8" text-anchor="middle" font-size="52" letter-spacing="-1.9">1500</text>
<text x="153" y="757.6" font-size="66.3" fill="#2369FF">AMCN</text>
<text x="153" y="973.7" font-size="65.8" fill="#C00000">TOCN9</text>
<text x="153" y="1182.9" font-size="65.8" fill="#FF8C1E">TOCN5</text>
<text x="153" y="1408.9" font-size="66" fill="#007D0F">NFC</text>
<text transform="translate(69 727.7) rotate(-90)" text-anchor="middle" font-size="84">Absorbance</text>
<text x="666" y="1707.5" font-size="84">Wavenumber (cm<tspan font-size="56" dy="-44">-1</tspan><tspan dy="44" dx="3">)</tspan></text>
</svg>
</body></html>
